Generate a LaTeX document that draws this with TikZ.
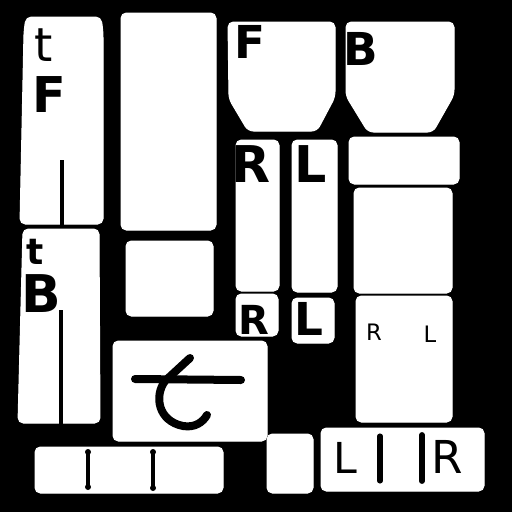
\documentclass[tikz,border=0pt]{standalone}
\usepackage{fontspec}
\setmainfont{DejaVu Sans}

\tikzset{every picture/.style={line width=0.75pt}}
\tikzset{
  patch/.style={fill=white,draw=white,rounded corners=4pt},
  seam/.style={draw=black,line width=2.5pt},
  bigl/.style={inner sep=0pt,text=black,font=\bfseries},
  thinl/.style={inner sep=0pt,text=black},
  pen/.style={draw=black,line width=6pt,line cap=round,line join=round},
  bone/.style={draw=black,line width=2.4pt},
}

\begin{document}
\begin{tikzpicture}[x=0.75pt,y=0.75pt,yscale=-1,xscale=1]
	%Shape: Background
	\fill [black] (0,0) rectangle (512,512) ;
	\useasboundingbox (0,0) rectangle (512,512) ;
	%Shape: Polygon (front leg piece)
	\draw [patch] (26,17) -- (101,17) -- (103,32) -- (103,224) -- (20,224) -- (24,32) -- cycle ;
	%Straight Lines
	\draw [seam] (62,160) -- (62,226) ;
	%Shape: Polygon (back leg piece)
	\draw [patch] (23,229) -- (99,229) -- (100,423) -- (18,423) -- cycle ;
	%Straight Lines
	\draw [seam] (61,310) -- (61,425) ;
	%Shape: Rectangle
	\draw [patch] (121,13) rectangle (216,230) ;
	%Shape: Rectangle
	\draw [patch] (126,241) rectangle (213,316) ;
	%Shape: Rectangle
	\draw [patch] (113,341) rectangle (267,441) ;
	%Shape: Rectangle
	\draw [patch] (35,447) rectangle (223,493) ;
	%Shape: Polygon (front cup)
	\draw [patch] (228,22) -- (335,22) -- (335,97) -- (317,131) -- (248,131) -- (229,99) -- cycle ;
	%Shape: Polygon (back cup)
	\draw [patch] (346,22) -- (454,22) -- (454,95) -- (433,132) -- (368,132) -- (346,96) -- cycle ;
	%Shape: Rectangle
	\draw [patch] (236,140) rectangle (279,291) ;
	%Shape: Rectangle
	\draw [patch] (292,140) rectangle (337,292) ;
	%Shape: Rectangle
	\draw [patch] (349,137) rectangle (459,184) ;
	%Shape: Rectangle
	\draw [patch] (354,188) rectangle (452,293) ;
	%Shape: Rectangle
	\draw [patch] (236,294) rectangle (278,336) ;
	%Shape: Rectangle
	\draw [patch] (292,298) rectangle (334,343) ;
	%Shape: Rectangle
	\draw [patch] (356,296) rectangle (452,422) ;
	%Shape: Rectangle
	\draw [patch] (267,434) rectangle (313,493) ;
	%Shape: Rectangle
	\draw [patch] (321,428) rectangle (484,491) ;
	%Curve Lines (big t)
	\draw [pen] (135,379) -- (241,380) ;
	\draw [pen] (190,358) -- (165,381) .. controls (154,396) and (158,421) .. (183,426) .. controls (195,428) and (203,422) .. (207,415) ;
	%Straight Lines (bones)
	\draw [bone] (88,452) -- (88,487) ;
	\fill (88,452) circle (3) (88,487) circle (3) ;
	\draw [bone] (153,452) -- (153,488) ;
	\fill (153,452) circle (3) (153,488) circle (3) ;
	%Straight Lines (bars)
	\draw [draw=black,line width=3.8pt,line cap=round] (380,436) -- (380,481) ;
	\draw [draw=black,line width=4.4pt,line cap=round] (422,435) -- (422,481) ;
	% Text Node
	\draw (44,45) node (tFront) [thinl,font=\fontsize{35}{35}\selectfont] {t};
	% Text Node
	\draw (49,95) node (fFront) [bigl,font=\fontsize{37}{37}\selectfont\bfseries] {F};
	% Text Node
	\draw (35,252) node (tBack) [bigl,font=\fontsize{27}{27}\selectfont\bfseries] {t};
	% Text Node
	\draw (41,294) node (bBack) [bigl,font=\fontsize{39}{39}\selectfont\bfseries] {B};
	% Text Node
	\draw (250,42) node (fCup) [bigl,font=\fontsize{34}{34}\selectfont\bfseries] {F};
	% Text Node
	\draw (361,49) node (bCup) [bigl,font=\fontsize{34}{34}\selectfont\bfseries] {B};
	% Text Node
	\draw (251,164) node (rStrip) [bigl,font=\fontsize{38}{38}\selectfont\bfseries] {R};
	% Text Node
	\draw (311,164) node (lStrip) [bigl,font=\fontsize{38}{38}\selectfont\bfseries] {L};
	% Text Node
	\draw (254,320) node (rSmall) [bigl,font=\fontsize{30}{30}\selectfont\bfseries] {R};
	% Text Node
	\draw (309,319) node (lSmall) [bigl,font=\fontsize{34}{34}\selectfont\bfseries] {L};
	% Text Node
	\draw (374,332) node (rSide) [thinl,font=\fontsize{17}{17}\selectfont] {R};
	% Text Node
	\draw (430,334) node (lSide) [thinl,font=\fontsize{17}{17}\selectfont] {L};
	% Text Node
	\draw (345,458) node (lBottom) [thinl,font=\fontsize{32}{32}\selectfont] {L};
	% Text Node
	\draw (447,457) node (rBottom) [thinl,font=\fontsize{34}{34}\selectfont] {R};
\end{tikzpicture}
\end{document}
